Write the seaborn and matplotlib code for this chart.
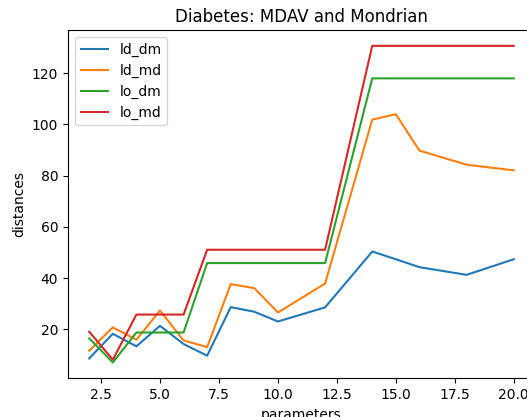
import matplotlib
matplotlib.use("Agg")
import matplotlib.pyplot as plt
import seaborn as sns
import pandas as pd

# parameter values (k) and the distances measured for each method
parameters = [2, 3, 4, 5, 6, 7, 8, 9, 10, 12, 14, 15, 16, 18, 20]
ld_dm = [8.7, 18.3, 13.4, 21.4, 14.3, 9.75, 28.7, 26.9, 23.1, 28.6, 50.4, 47.4, 44.3, 41.3, 47.4]
ld_md = [11.7, 20.8, 16.0, 27.4, 15.7, 13.1, 37.7, 36.1, 26.6, 37.9, 101.9, 104.0, 89.8, 84.3, 82.1]
lo_dm = [16.5, 7.1, 18.8, 18.8, 18.8, 45.9, 45.9, 45.9, 45.9, 45.9, 118.0, 118.0, 118.0, 118.0, 118.0]
lo_md = [19.1, 8.2, 25.8, 25.8, 25.8, 51.1, 51.1, 51.1, 51.1, 51.1, 130.7, 130.7, 130.7, 130.7, 130.7]

series = {"ld_dm": ld_dm, "ld_md": ld_md, "lo_dm": lo_dm, "lo_md": lo_md}
palette = sns.color_palette("tab10", 4)

fig = plt.figure(figsize=(5.27, 4.17), dpi=100)
ax = fig.add_axes([68 / 527, (417 - 378.3) / 417, (535 - 68) / 527, 348.3 / 417])

for (name, values), color in zip(series.items(), palette):
    df = pd.DataFrame({"parameters": parameters, "distances": values})
    sns.lineplot(data=df, x="parameters", y="distances", label=name,
                 color=color, linewidth=1.5, ax=ax)

ax.set_title("Diabetes: MDAV and Mondrian")
ax.set_xlabel("parameters")
ax.set_ylabel("distances")
ax.legend(loc="upper left")

fig.savefig("out.png", dpi=100)
